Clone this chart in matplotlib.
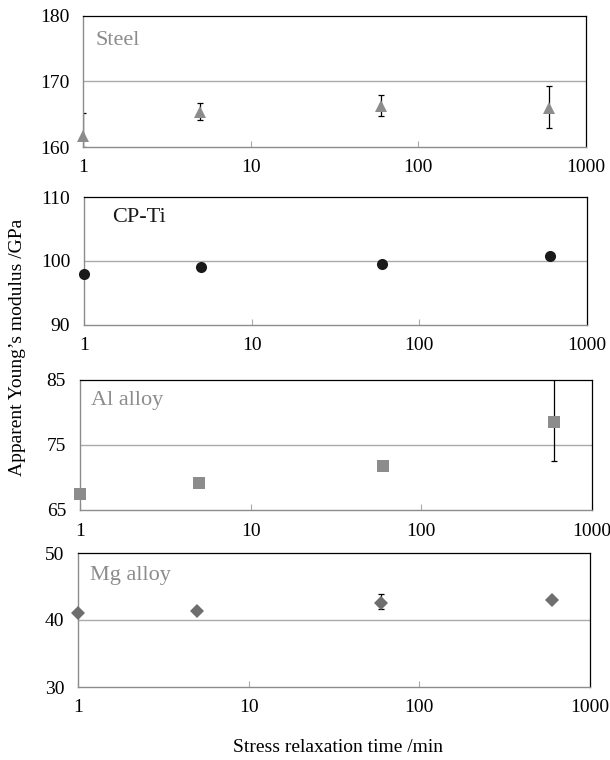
"""
Apparent Young's modulus vs stress relaxation time, four materials stacked.
"""

import matplotlib

matplotlib.use("Agg")
import matplotlib.pyplot as plt
from matplotlib.ticker import FixedLocator, NullLocator

plt.rcParams["font.family"] = ["Liberation Serif", "DejaVu Serif"]

# ---------------------------------------------------------------------------
# data
# ---------------------------------------------------------------------------

relax_time = [1, 5, 60, 600]
x_ticks = [1, 10, 100, 1000]

steel_e = [161.7, 165.3, 166.2, 166.0]
steel_err_lo = [1.7, 1.2, 1.5, 3.1]
steel_err_hi = [3.5, 1.4, 1.7, 3.3]

ti_e = [97.9, 99.0, 99.6, 100.8]

al_e = [67.4, 69.2, 71.7, 78.6]
al_err_lo = [0.0, 0.0, 0.0, 6.1]
al_err_hi = [0.0, 0.0, 0.0, 6.8]

mg_e = [41.0, 41.4, 42.6, 43.0]
mg_err_lo = [0.0, 0.0, 0.9, 0.0]
mg_err_hi = [0.0, 0.0, 1.3, 0.0]

panel_names = ["Steel", "CP-Ti", "Al alloy", "Mg alloy"]
panel_yticks = [[160, 170, 180], [90, 100, 110], [65, 75, 85], [30, 40, 50]]

# ---------------------------------------------------------------------------
# layout / style
# ---------------------------------------------------------------------------

W, H = 610, 760
# (left, top, right, bottom) in pixels
PANEL_BOXES = [
    (83, 16, 586, 147),
    (84, 197, 587, 325),
    (80, 380, 592, 510),
    (78, 553, 590, 687),
]
MARKERS = ["^", "o", "s", "D"]
MARKER_SIZES = [8, 8, 9, 7]
MARKER_COLORS = ["#8c8c8c", "#1a1a1a", "#8c8c8c", "#6e6e6e"]
NAME_COLORS = ["#8c8c8c", "#1a1a1a", "#8c8c8c", "#8c8c8c"]
NAME_POS = [(0.024, 0.81), (0.056, 0.84), (0.022, 0.84), (0.024, 0.83)]


def style_axes(ax, yticks):
    ax.set_xscale("log")
    ax.set_xlim(1, 1000)
    ax.set_ylim(yticks[0], yticks[-1])
    ax.xaxis.set_major_locator(FixedLocator(x_ticks))
    ax.xaxis.set_minor_locator(NullLocator())
    ax.set_xticklabels([str(v) for v in x_ticks])
    ax.set_yticks(yticks)
    ax.tick_params(axis="x", direction="in", length=4, width=0.8,
                   color="#aaaaaa", pad=9, labelsize=14)
    ax.tick_params(axis="y", length=0, pad=10, labelsize=14)
    ax.axhline(yticks[1], color="#aaaaaa", lw=1.0, zorder=1)
    for side in ("left", "bottom"):
        ax.spines[side].set_color("#8c8c8c")
        ax.spines[side].set_linewidth(1.0)
    for side in ("top", "right"):
        ax.spines[side].set_color("#000000")
        ax.spines[side].set_linewidth(0.9)


fig = plt.figure(figsize=(W / 100, H / 100), dpi=100)

series = [
    (steel_e, (steel_err_lo, steel_err_hi)),
    (ti_e, None),
    (al_e, (al_err_lo, al_err_hi)),
    (mg_e, (mg_err_lo, mg_err_hi)),
]

for i, (l, t, r, b) in enumerate(PANEL_BOXES):
    ax = fig.add_axes([l / W, 1 - b / H, (r - l) / W, (b - t) / H])
    style_axes(ax, panel_yticks[i])

    values, err = series[i]
    if err is not None:
        ax.errorbar(relax_time, values, yerr=[err[0], err[1]], fmt="none",
                    ecolor="black", elinewidth=0.9, capsize=2, capthick=0.9,
                    zorder=2)
    ax.plot(relax_time, values, linestyle="none", marker=MARKERS[i],
            markersize=MARKER_SIZES[i], color=MARKER_COLORS[i],
            markeredgewidth=0, clip_on=False, zorder=3)

    ax.text(NAME_POS[i][0], NAME_POS[i][1], panel_names[i],
            transform=ax.transAxes, ha="left", va="center",
            fontsize=16, color=NAME_COLORS[i])

fig.text(18 / W, 1 - 347 / H, "Apparent Young\u2019s modulus /GPa",
         rotation=90, ha="center", va="center", fontsize=14)
fig.text(338 / W, 1 - 747 / H, "Stress relaxation time /min",
         ha="center", va="center", fontsize=14)

fig.savefig("out.png", dpi=100)
